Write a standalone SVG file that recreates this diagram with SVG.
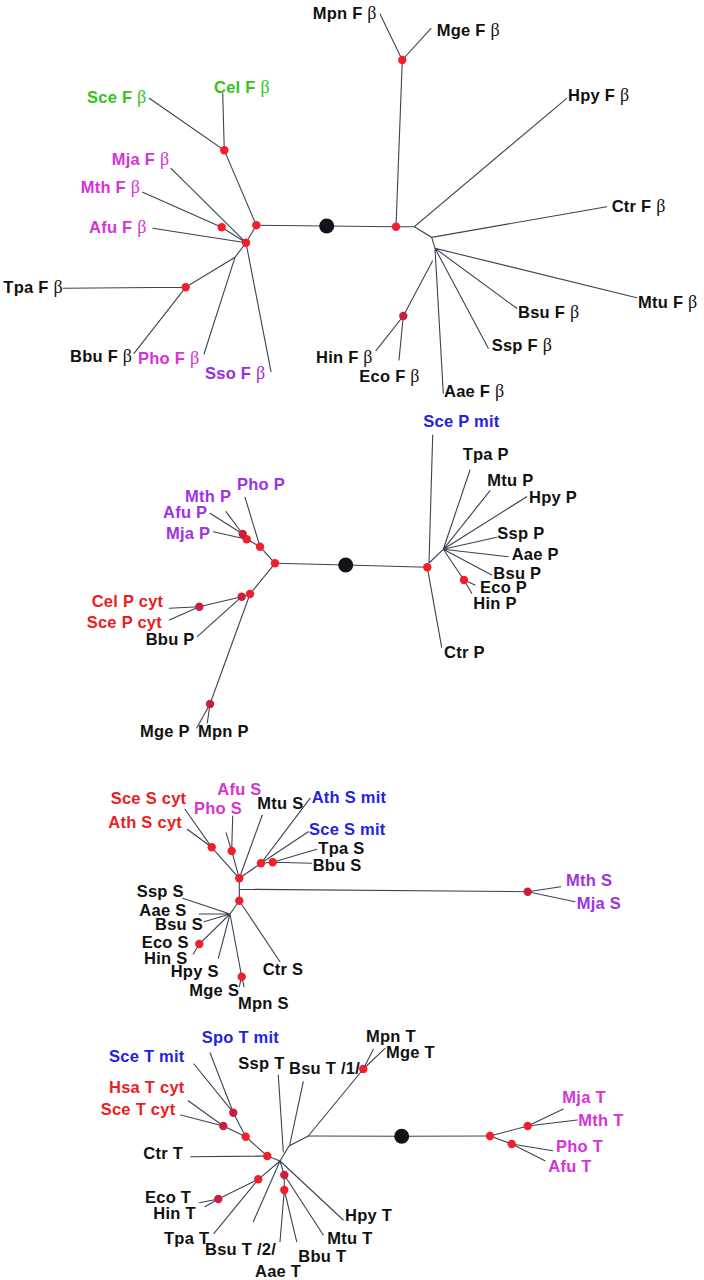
<svg xmlns="http://www.w3.org/2000/svg" width="704" height="1280" viewBox="0 0 704 1280">
<style>
.bg{fill:#ffffff}
.e{stroke:#3a4255;stroke-width:1.1;fill:none;stroke-linecap:round}
.n{fill:#f0202a}
.d{fill:#c8203a}
.root{fill:#111318}
text{font-family:"Liberation Sans",Arial,sans-serif;font-weight:bold;font-size:16.5px;letter-spacing:0.25px;fill:#111111}
.b{font-family:"Liberation Serif","Times New Roman",serif;font-weight:normal;font-size:18px}
.g{fill:#33c41a}
.m{fill:#d633d6}
.v{fill:#a033e0}
.p{fill:#9a2ed6}
.r{fill:#ee1c1c}
.u{fill:#1f22e0}
.k{fill:#111111}
</style>
<rect class="bg" x="0" y="0" width="704" height="1280"/>
<g id="connectors" class="e">
<!-- Tree F beta -->
<path d="M256.3 225.3L326.7 226L396 226.7"/>
<path d="M256.3 225.3L224.3 150.3L149.3 98.3M224.3 150.3L222.7 93.3"/>
<path d="M256.3 225.3L246 242.7L171 168.3M221.7 227.3L142.7 192.3M221.7 227.3L246 242.7L152.7 228.3"/>
<path d="M246 242.7L235 257.3L185.7 287.3L63.3 288.3M185.7 287.3L134 353.3M235 257.3L204 354M246 242.7L271 371.7"/>
<path d="M396 226.7L402.3 60L380 14M402.3 60L431 28.3"/>
<path d="M396 226.7L414.3 226.7L566.7 98.3M414.3 226.7L431.7 237.3L606.7 206.7M431.7 237.3L435 248.3L636.7 297.7M435 248.3L516.7 308.3M435 248.3L488.3 348.3M435 248.3L443.3 393.3"/>
<path d="M432.5 261L403.3 316L376 350.7M403.3 316L399 360"/>
<!-- Tree P -->
<path d="M275 563.3L345.7 565L427.3 567.3"/>
<path d="M275 563.3L260 546.7L245 497.3M260 546.7L246.7 539.3L242.7 534L226 511.7M242.7 534L210 513.3M246.7 539.3L213.3 531.7"/>
<path d="M275 563.3L250 594L241.7 596.7L199.3 606.7L169.3 608.3M199.3 606.7L169.3 620M241.7 596.7L197.3 636.7"/>
<path d="M250 594L210 704L196.7 728M210 704L207.3 723"/>
<path d="M429 563L432.7 435M427.3 567.3L441.7 647.3M429 563L443.3 549.3"/>
<path d="M443.3 549.3L470 470M443.3 549.3L490 490.7M443.3 549.3L526.7 496.7M443.3 549.3L496.7 537.3M443.3 549.3L508.3 556.7M443.3 549.3L491.7 575M443.3 549.3L464 580L475 585M464 580L471.7 593.3"/>
<!-- Tree S -->
<path d="M239.3 878.3L239.3 900.7M239.3 889.3L527.7 891.7"/>
<path d="M239.3 878.3L211.7 847.3L185 809.3M211.7 847.3L187.3 829.3"/>
<path d="M239.3 878.3L231.7 851L232.7 816M231.7 851L226 832.7M239.3 878.3L262.3 815"/>
<path d="M239.3 878.3L261 863.3L310 798.3M261 863.3L308.3 831.7M261 863.3L272.7 862.3L316.7 849.3M272.7 862.3L311.7 863.3"/>
<path d="M239.3 900.7L230 914M239.3 900.7L280 961.7"/>
<path d="M230 914L182.7 898.3M230 914L199.3 914M230 914L204 921.7M230 914L199.3 944L193.3 954M230 914L218.3 958.3M230 914L241.7 976.7L239.3 986.7M241.7 976.7L244 986.7"/>
<path d="M527.7 891.7L560.7 886.7M527.7 891.7L575 901.7"/>
<!-- Tree T -->
<path d="M308.3 1136L401.7 1136.3L490 1136"/>
<path d="M308.3 1136L363.3 1069L373.3 1049.3M363.3 1069L385 1048.3"/>
<path d="M308.3 1136L289 1146L280 1161M289.5 1146L303.3 1081.7M283.3 1152L278.3 1075"/>
<path d="M280 1161L267.3 1156L190.7 1156.7M267.3 1156L245.7 1136.7L233.3 1112.7L210 1052.7M233.3 1112.7L194 1064M245.7 1136.7L223.3 1126L188.3 1100.7M223.3 1126L180.7 1115"/>
<path d="M280 1161L258.3 1179.3L218.3 1199L199.3 1202.7M218.3 1199L205 1206.7M258.3 1179.3L214 1233.3M280 1161L253.3 1221.7"/>
<path d="M280 1161L284.3 1175L323.3 1235M284.3 1175L284.3 1190L280 1241.7M284.3 1190L296.7 1241.7M280 1161L343.3 1220"/>
<path d="M490 1136L527.7 1126L563.3 1109M527.7 1126L577.3 1120M490 1136L511.7 1144L552.7 1150.7M511.7 1144L545 1160.7"/>
</g>
<g id="branch-points">
<circle class="root" cx="326.7" cy="226" r="7.5"/>
<circle class="n" cx="224.3" cy="150.3" r="4.2"/>
<circle class="n" cx="256.3" cy="225.3" r="4.2"/>
<circle class="n" cx="221.7" cy="227.3" r="4.2"/>
<circle class="n" cx="246" cy="242.7" r="4.2"/>
<circle class="n" cx="185.7" cy="287.3" r="4.2"/>
<circle class="n" cx="396" cy="226.7" r="4.2"/>
<circle class="n" cx="402.3" cy="60" r="4.2"/>
<circle class="d" cx="403.3" cy="316" r="4.2"/>
<circle class="root" cx="345.7" cy="565" r="7.5"/>
<circle class="n" cx="275" cy="563.3" r="4.2"/>
<circle class="n" cx="260" cy="546.7" r="4.2"/>
<circle class="n" cx="246.7" cy="539.3" r="4.2"/>
<circle class="d" cx="242.7" cy="534" r="4.2"/>
<circle class="n" cx="250" cy="594" r="4.2"/>
<circle class="d" cx="241.7" cy="596.7" r="4.2"/>
<circle class="d" cx="199.3" cy="606.7" r="4.2"/>
<circle class="d" cx="210" cy="704" r="4.2"/>
<circle class="n" cx="427.3" cy="567.3" r="4.2"/>
<circle class="n" cx="464" cy="580" r="4.2"/>
<circle class="n" cx="239.3" cy="878.3" r="4.2"/>
<circle class="n" cx="239.3" cy="900.7" r="4.2"/>
<circle class="n" cx="211.7" cy="847.3" r="4.2"/>
<circle class="n" cx="231.7" cy="851" r="4.2"/>
<circle class="n" cx="261" cy="863.3" r="4.2"/>
<circle class="n" cx="272.7" cy="862.3" r="4.2"/>
<circle class="n" cx="199.3" cy="944" r="4.2"/>
<circle class="n" cx="241.7" cy="976.7" r="4.2"/>
<circle class="d" cx="527.7" cy="891.7" r="4.2"/>
<circle class="root" cx="401.7" cy="1136.3" r="7.5"/>
<circle class="n" cx="363.3" cy="1069" r="4.2"/>
<circle class="n" cx="267.3" cy="1156" r="4.2"/>
<circle class="n" cx="245.7" cy="1136.7" r="4.2"/>
<circle class="d" cx="233.3" cy="1112.7" r="4.2"/>
<circle class="d" cx="223.3" cy="1126" r="4.2"/>
<circle class="n" cx="258.3" cy="1179.3" r="4.2"/>
<circle class="d" cx="218.3" cy="1199" r="4.2"/>
<circle class="d" cx="284.3" cy="1175" r="4.2"/>
<circle class="n" cx="284.3" cy="1190" r="4.2"/>
<circle class="n" cx="490" cy="1136" r="4.2"/>
<circle class="n" cx="527.7" cy="1126" r="4.2"/>
<circle class="n" cx="511.7" cy="1144" r="4.2"/>
</g>
<g id="tree-F-beta">
<g id="Sce-Fb"><text class="g" x="87" y="103">Sce F <tspan class="b">β</tspan></text></g>
<g id="Cel-Fb"><text class="g" x="214" y="93">Cel F <tspan class="b">β</tspan></text></g>
<g id="Mja-Fb"><text class="m" x="111.7" y="165">Mja F <tspan class="b">β</tspan></text></g>
<g id="Mth-Fb"><text class="m" x="80.7" y="193">Mth F <tspan class="b">β</tspan></text></g>
<g id="Afu-Fb"><text class="m" x="89" y="233">Afu F <tspan class="b">β</tspan></text></g>
<g id="Tpa-Fb"><text class="k" x="3.3" y="293">Tpa F <tspan class="b">β</tspan></text></g>
<g id="Bbu-Fb"><text class="k" x="70" y="362">Bbu F <tspan class="b">β</tspan></text></g>
<g id="Pho-Fb"><text class="m" x="138" y="364">Pho F <tspan class="b">β</tspan></text></g>
<g id="Sso-Fb"><text class="p" x="205" y="379">Sso F <tspan class="b">β</tspan></text></g>
<g id="Mpn-Fb"><text class="k" x="312.7" y="19">Mpn F <tspan class="b">β</tspan></text></g>
<g id="Mge-Fb"><text class="k" x="436.7" y="36">Mge F <tspan class="b">β</tspan></text></g>
<g id="Hpy-Fb"><text class="k" x="568" y="101">Hpy F <tspan class="b">β</tspan></text></g>
<g id="Ctr-Fb"><text class="k" x="611.7" y="212">Ctr F <tspan class="b">β</tspan></text></g>
<g id="Mtu-Fb"><text class="k" x="638" y="308">Mtu F <tspan class="b">β</tspan></text></g>
<g id="Bsu-Fb"><text class="k" x="518" y="318">Bsu F <tspan class="b">β</tspan></text></g>
<g id="Ssp-Fb"><text class="k" x="491.7" y="351">Ssp F <tspan class="b">β</tspan></text></g>
<g id="Aae-Fb"><text class="k" x="444" y="397">Aae F <tspan class="b">β</tspan></text></g>
<g id="Hin-Fb"><text class="k" x="316" y="363">Hin F <tspan class="b">β</tspan></text></g>
<g id="Eco-Fb"><text class="k" x="359.3" y="382">Eco F <tspan class="b">β</tspan></text></g>
</g>
<g id="tree-P">
<g id="Pho-P"><text class="v" x="237" y="490">Pho P</text></g>
<g id="Mth-P"><text class="v" x="185" y="502">Mth P</text></g>
<g id="Afu-P"><text class="v" x="163" y="518">Afu P</text></g>
<g id="Mja-P"><text class="v" x="166" y="539">Mja P</text></g>
<g id="Cel-P-cyt"><text class="r" x="91.7" y="607">Cel P cyt</text></g>
<g id="Sce-P-cyt"><text class="r" x="86.7" y="628">Sce P cyt</text></g>
<g id="Bbu-P"><text class="k" x="145.7" y="645">Bbu P</text></g>
<g id="Mge-P"><text class="k" x="140" y="737">Mge P</text></g>
<g id="Mpn-P"><text class="k" x="198" y="737">Mpn P</text></g>
<g id="Sce-P-mit"><text class="u" x="423.3" y="427">Sce P mit</text></g>
<g id="Tpa-P"><text class="k" x="462.7" y="460">Tpa P</text></g>
<g id="Mtu-P"><text class="k" x="487.3" y="486">Mtu P</text></g>
<g id="Hpy-P"><text class="k" x="529" y="503">Hpy P</text></g>
<g id="Ssp-P"><text class="k" x="497.3" y="539">Ssp P</text></g>
<g id="Aae-P"><text class="k" x="511.7" y="560">Aae P</text></g>
<g id="Bsu-P"><text class="k" x="493.3" y="579">Bsu P</text></g>
<g id="Eco-P"><text class="k" x="480" y="593">Eco P</text></g>
<g id="Hin-P"><text class="k" x="473.3" y="609">Hin P</text></g>
<g id="Ctr-P"><text class="k" x="444" y="658">Ctr P</text></g>
</g>
<g id="tree-S">
<g id="Sce-S-cyt"><text class="r" x="110.7" y="804">Sce S cyt</text></g>
<g id="Ath-S-cyt"><text class="r" x="108.3" y="828">Ath S cyt</text></g>
<g id="Pho-S"><text class="m" x="194" y="814">Pho S</text></g>
<g id="Afu-S"><text class="m" x="217.3" y="795">Afu S</text></g>
<g id="Mtu-S"><text class="k" x="257.3" y="809">Mtu S</text></g>
<g id="Ath-S-mit"><text class="u" x="311.7" y="803">Ath S mit</text></g>
<g id="Sce-S-mit"><text class="u" x="309" y="835">Sce S mit</text></g>
<g id="Tpa-S"><text class="k" x="318.3" y="854">Tpa S</text></g>
<g id="Bbu-S"><text class="k" x="312.7" y="871">Bbu S</text></g>
<g id="Ssp-S"><text class="k" x="136.7" y="897">Ssp S</text></g>
<g id="Aae-S"><text class="k" x="139.3" y="916">Aae S</text></g>
<g id="Bsu-S"><text class="k" x="155" y="930">Bsu S</text></g>
<g id="Eco-S"><text class="k" x="141.7" y="948">Eco S</text></g>
<g id="Hin-S"><text class="k" x="144" y="964">Hin S</text></g>
<g id="Hpy-S"><text class="k" x="170.7" y="977">Hpy S</text></g>
<g id="Ctr-S"><text class="k" x="262.7" y="975">Ctr S</text></g>
<g id="Mge-S"><text class="k" x="189.3" y="996">Mge S</text></g>
<g id="Mpn-S"><text class="k" x="238" y="1009">Mpn S</text></g>
<g id="Mth-S"><text class="v" x="566" y="886">Mth S</text></g>
<g id="Mja-S"><text class="v" x="576.7" y="909">Mja S</text></g>
</g>
<g id="tree-T">
<g id="Spo-T-mit"><text class="u" x="201.7" y="1043">Spo T mit</text></g>
<g id="Sce-T-mit"><text class="u" x="109" y="1062">Sce T mit</text></g>
<g id="Hsa-T-cyt"><text class="r" x="109" y="1093">Hsa T cyt</text></g>
<g id="Sce-T-cyt"><text class="r" x="100.7" y="1115">Sce T cyt</text></g>
<g id="Ssp-T"><text class="k" x="238.3" y="1069">Ssp T</text></g>
<g id="Bsu-T-1"><text class="k" x="289" y="1074">Bsu T /1/</text></g>
<g id="Mpn-T"><text class="k" x="366" y="1042">Mpn T</text></g>
<g id="Mge-T"><text class="k" x="386" y="1058">Mge T</text></g>
<g id="Ctr-T"><text class="k" x="143.3" y="1159">Ctr T</text></g>
<g id="Eco-T"><text class="k" x="145" y="1203">Eco T</text></g>
<g id="Hin-T"><text class="k" x="153.3" y="1219">Hin T</text></g>
<g id="Tpa-T"><text class="k" x="164" y="1244">Tpa T</text></g>
<g id="Bsu-T-2"><text class="k" x="205" y="1255">Bsu T /2/</text></g>
<g id="Aae-T"><text class="k" x="255" y="1277">Aae T</text></g>
<g id="Bbu-T"><text class="k" x="298.3" y="1262">Bbu T</text></g>
<g id="Mtu-T"><text class="k" x="327.3" y="1244">Mtu T</text></g>
<g id="Hpy-T"><text class="k" x="345" y="1221">Hpy T</text></g>
<g id="Mja-T"><text class="m" x="562.3" y="1103">Mja T</text></g>
<g id="Mth-T"><text class="m" x="578.3" y="1126">Mth T</text></g>
<g id="Pho-T"><text class="m" x="556" y="1152">Pho T</text></g>
<g id="Afu-T"><text class="m" x="548.3" y="1172">Afu T</text></g>
</g>
</svg>
